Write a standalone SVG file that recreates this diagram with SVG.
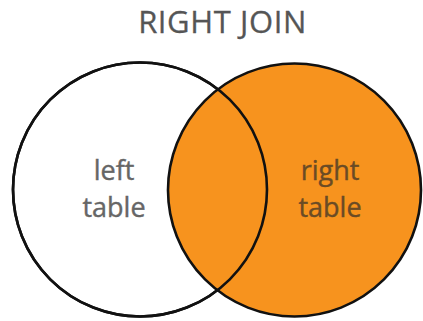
<svg xmlns="http://www.w3.org/2000/svg" xmlns:xlink="http://www.w3.org/1999/xlink" width="423" height="321" viewBox="0 0 423 321">
<style>
.lbl{font-family:"Open Sans","Liberation Sans",sans-serif;font-size:27px;text-anchor:middle;stroke-width:0.4}
.title{font-family:"Open Sans","Liberation Sans",sans-serif;font-size:31px;fill:#555;stroke:#555;stroke-width:0.3;letter-spacing:0.6px;text-anchor:middle}
.ring{stroke:#111;stroke-width:2.6}
</style>
<defs>
<circle id="lc" cx="140" cy="189.5" r="127"/>
</defs>
<rect width="423" height="321" fill="#fff"/>
<text class="title" x="222.5" y="33">RIGHT JOIN</text>
<g id="left-table">
<use xlink:href="#lc" href="#lc" fill="#fff" class="ring"/>
<text class="lbl" fill="#666" stroke="#666" x="114" y="180">left</text>
<text class="lbl" fill="#666" stroke="#666" x="114" y="217">table</text>
</g>
<g id="right-table">
<circle cx="294.5" cy="190" r="126.5" fill="#F7931E" class="ring"/>
<text class="lbl" fill="#6a4b25" stroke="#6a4b25" x="330" y="180">right</text>
<text class="lbl" fill="#6a4b25" stroke="#6a4b25" x="330" y="217">table</text>
</g>
<g id="connectors">
<use xlink:href="#lc" href="#lc" fill="none" class="ring"/>
</g>
</svg>
